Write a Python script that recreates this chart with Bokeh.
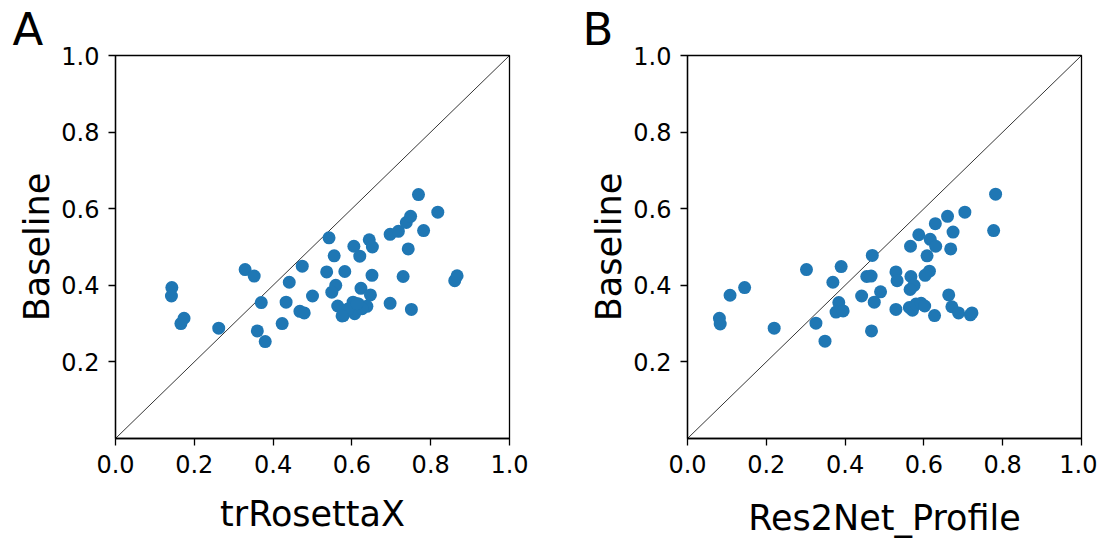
from bokeh.plotting import figure
from bokeh.layouts import row
from bokeh.models import FixedTicker, NumeralTickFormatter
from bokeh.embed import file_html
from bokeh.resources import INLINE

# Panel A: trRosettaX vs Baseline
a_x = [0.143, 0.142, 0.166, 0.174, 0.262, 0.329, 0.352, 0.370, 0.360, 0.380,
       0.423, 0.433, 0.441, 0.474, 0.468, 0.479, 0.500, 0.542, 0.536, 0.555,
       0.559, 0.549, 0.582, 0.564, 0.578, 0.605, 0.620, 0.623, 0.644, 0.652,
       0.651, 0.647, 0.638, 0.603, 0.607, 0.617, 0.626, 0.590, 0.697, 0.718,
       0.738, 0.749, 0.769, 0.818, 0.782, 0.743, 0.730, 0.697, 0.751, 0.861,
       0.867, 0.575, 0.613]
a_y = [0.394, 0.372, 0.300, 0.314, 0.288, 0.441, 0.424, 0.355, 0.281, 0.253,
       0.300, 0.356, 0.408, 0.450, 0.332, 0.328, 0.372, 0.524, 0.435, 0.477,
       0.400, 0.382, 0.436, 0.346, 0.321, 0.502, 0.476, 0.392, 0.519, 0.500,
       0.426, 0.375, 0.345, 0.356, 0.326, 0.351, 0.339, 0.338, 0.533, 0.541,
       0.564, 0.580, 0.637, 0.591, 0.543, 0.495, 0.423, 0.353, 0.337, 0.412,
       0.425, 0.320, 0.352]

# Panel B: Res2Net_Profile vs Baseline
b_x = [0.081, 0.083, 0.108, 0.145, 0.220, 0.302, 0.326, 0.349, 0.369, 0.390,
       0.384, 0.377, 0.395, 0.442, 0.455, 0.466, 0.469, 0.474, 0.490, 0.467,
       0.529, 0.532, 0.529, 0.566, 0.567, 0.575, 0.565, 0.587, 0.616, 0.630,
       0.608, 0.614, 0.603, 0.629, 0.660, 0.674, 0.668, 0.704, 0.782, 0.777,
       0.663, 0.671, 0.688, 0.718, 0.722, 0.627, 0.563, 0.571, 0.580, 0.593,
       0.602]
b_y = [0.314, 0.299, 0.374, 0.394, 0.288, 0.441, 0.301, 0.254, 0.408, 0.449,
       0.355, 0.330, 0.333, 0.372, 0.423, 0.424, 0.478, 0.356, 0.383, 0.281,
       0.435, 0.412, 0.337, 0.502, 0.423, 0.400, 0.389, 0.532, 0.520, 0.502,
       0.477, 0.437, 0.426, 0.561, 0.580, 0.539, 0.495, 0.591, 0.638, 0.543,
       0.375, 0.344, 0.328, 0.323, 0.328, 0.321, 0.342, 0.335, 0.351, 0.353,
       0.346]

x_ticks = [0.0, 0.2, 0.4, 0.6, 0.8, 1.0]
y_ticks = [0.2, 0.4, 0.6, 0.8, 1.0]

FONT = "DejaVu Sans"
BLUE = "#1f77b4"


def make_panel(xs, ys, xlabel, letter, bl, br, title_offset, xlab_standoff):
    p = figure(frame_width=394, frame_height=383, x_range=(0, 1), y_range=(0, 1),
               output_backend="svg", toolbar_location=None,
               min_border_left=bl, min_border_right=br,
               min_border_top=54, min_border_bottom=95)
    p.grid.visible = False
    p.background_fill_color = "white"
    p.border_fill_color = "white"
    p.outline_line_color = "black"
    p.outline_line_width = 1.3
    p.outline_line_alpha = 1.0

    p.title.text = letter
    p.title.text_font = FONT
    p.title.text_font_size = "45px"
    p.title.text_font_style = "normal"
    p.title.text_color = "black"
    p.title.align = "left"
    p.title.offset = title_offset
    p.title.standoff = 0

    p.line([0, 1], [0, 1], line_color="black", line_width=0.8)
    p.scatter(xs, ys, size=13, fill_color=BLUE, line_color=BLUE, line_width=0)

    p.xaxis.ticker = FixedTicker(ticks=x_ticks)
    p.yaxis.ticker = FixedTicker(ticks=y_ticks)
    p.xaxis.formatter = NumeralTickFormatter(format="0.0")
    p.yaxis.formatter = NumeralTickFormatter(format="0.0")
    p.xaxis.axis_label = xlabel
    p.yaxis.axis_label = "Baseline"
    for ax in (p.xaxis, p.yaxis):
        ax.axis_label_text_font = FONT
        ax.axis_label_text_font_size = "35px"
        ax.axis_label_text_font_style = "normal"
        ax.axis_label_text_color = "black"
        ax.major_label_text_font = FONT
        ax.major_label_text_font_size = "24px"
        ax.major_label_text_color = "black"
        ax.minor_tick_line_color = None
        ax.major_tick_in = 0
        ax.major_tick_out = 7
        ax.major_tick_line_width = 1.3
        ax.major_tick_line_color = "black"
        ax.axis_line_width = 1.3
        ax.axis_line_color = "black"
        ax.major_label_standoff = 9
    p.xaxis.axis_label_standoff = xlab_standoff
    p.yaxis.axis_label_standoff = 1
    return p


pA = make_panel(a_x, a_y, "trRosettaX", "A", 115, 51, -103, 18)
pB = make_panel(b_x, b_y, "Res2Net_Profile", "B", 127, 16, -105, 22)

layout = row(pA, pB)
open("out.html", "w").write(file_html(layout, INLINE))
